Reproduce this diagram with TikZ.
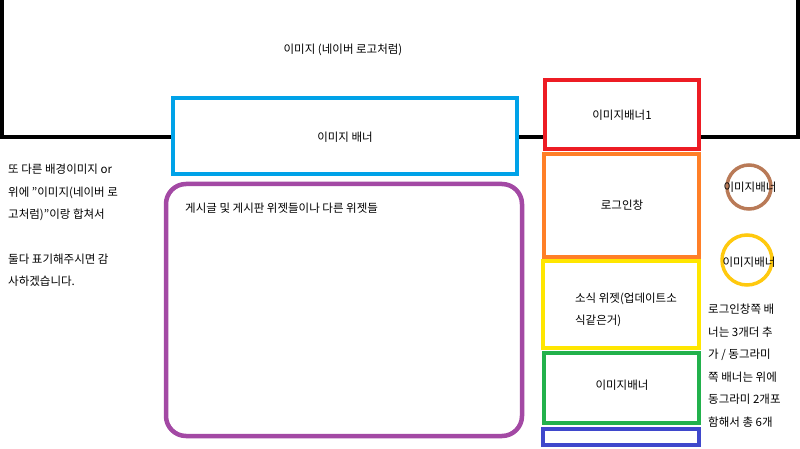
\documentclass[tikz,border=0pt]{standalone}
\usepackage{fontspec}
\setmainfont{Noto Sans CJK KR}
\begin{document}
\begin{tikzpicture}[x=1pt,y=-1pt,
  bx/.style={line width=4.5pt,fill=white},
  lbl/.style={font=\fontsize{11.5}{14}\selectfont,inner sep=0pt},
  ltxt/.style={font=\fontsize{11.5}{22.5}\selectfont,inner sep=0pt,anchor=north west,align=left}]
\useasboundingbox (0,0) rectangle (800,449);
\fill[white] (0,0) rectangle (800,449);
\draw[line width=4pt] (2,-10) rectangle (798,137);
\node[lbl] (top) at (343,50) {이미지 (네이버 로고처럼)};
\draw[bx,draw={rgb,255:red,0;green,162;blue,232}] (173,98) rectangle (517,174);
\node[lbl] (bb) at (345,137) {이미지 배너};
\draw[bx,draw={rgb,255:red,237;green,28;blue,36}] (545,80) rectangle (699,149);
\node[lbl] (r) at (622,115) {이미지배너1};
\draw[bx,draw={rgb,255:red,255;green,127;blue,39}] (544,154) rectangle (699,257);
\node[lbl] (o) at (622,205) {로그인창};
\draw[bx,draw={rgb,255:red,255;green,230;blue,0}] (543,261) rectangle (699,348);
\node[lbl,align=left,font=\fontsize{11.5}{22}\selectfont] (y) at (626,310) {소식 위젯(업데이트소\\식같은거)};
\draw[bx,draw={rgb,255:red,34;green,177;blue,76}] (544,353) rectangle (699,423);
\node[lbl] (g) at (622,385) {이미지배너};
\draw[bx,draw={rgb,255:red,63;green,72;blue,204}] (543,429) rectangle (699,445);
\draw[bx,draw={rgb,255:red,163;green,73;blue,164},rounded corners=20pt] (166,184) rectangle (522,436);
\node[ltxt] (p) at (185,203) {게시글 및 게시판 위젯들이나 다른 위젯들};
\draw[line width=3.5pt,draw={rgb,255:red,185;green,122;blue,87}] (749,187) circle (22);
\node[lbl] (c1) at (750,187) {이미지배너};
\draw[line width=3.5pt,draw={rgb,255:red,255;green,201;blue,14}] (747,260) circle (25);
\node[lbl] (c2) at (749,262) {이미지배너};
\node[ltxt] (left) at (8,164) {또 다른 배경이미지 or\\위에 \symbol{34}이미지(네이버 로\\고처럼)\symbol{34}이랑 합쳐서\\[22pt]둘다 표기해주시면 감\\사하겠습니다.};
\node[ltxt] (right) at (708,304) {로그인창쪽 배\\너는 3개더 추\\가 / 동그라미\\쪽 배너는 위에\\동그라미 2개포\\함해서 총 6개};
\end{tikzpicture}
\end{document}
